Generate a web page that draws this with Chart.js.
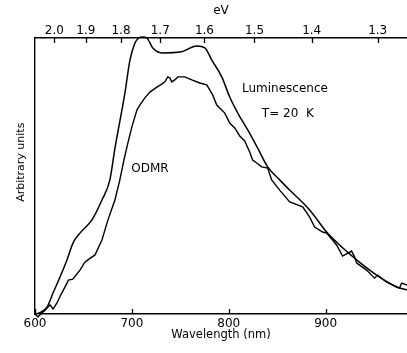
<!DOCTYPE html>
<html>
<head>
<meta charset="utf-8">
<title>ODMR and luminescence spectra</title>
<script src="https://cdn.jsdelivr.net/npm/chart.js@4.4.1/dist/chart.umd.min.js"></script>
<style>
  html, body { margin: 0; padding: 0; background: #fff; }
  #wrap { width: 407px; height: 353px; position: relative; }
</style>
</head>
<body>
<div id="wrap"><canvas id="spectra"></canvas></div>
<script>
// values: wavelength in nm, intensity in arbitrary units (0-100)
const lumWavelength = [600, 605, 612.4, 618.6, 625.8, 633, 639.2, 646.4, 658.8, 669.1,
  677.3, 682.5, 692.8, 698, 703, 707, 711.3, 715.5, 721.6, 732,
  750, 767, 775.3, 782.5, 792.8, 801, 809.3, 819.6, 829.9, 840.2,
  852.6, 862.9, 883.5, 901, 914.4, 932, 952.6, 973.2, 984];
const lumIntensity = [0, 0.5, 2.5, 7.6, 13.4, 19.6, 25.7, 29.3, 34.1, 41.3,
  48.6, 60, 80, 92, 98, 100, 100.4, 100, 96.4, 94.6,
  94.9, 97.1, 96.4, 92, 85.9, 78.6, 72.8, 66.7, 60.1, 53.3,
  48.6, 44.9, 37.7, 29.7, 25, 19.6, 14.1, 9.8, 8.7];

const odmrWavelength = [600, 603, 606, 611, 615.5, 618.6, 622.7, 626, 633, 634.5,
  639, 646.4, 651.5, 654.6, 661.9, 669.1, 675.3, 682.5, 687.6, 691.8,
  695.9, 700, 705.2, 708.2, 713.4, 718.6, 725.8, 730.9, 734, 737.1,
  739.2, 741.2, 744.3, 747.4, 754.6, 761.9, 770.1, 777.3, 780.4, 783.5,
  787.6, 792.8, 795.9, 801, 806.2, 811.3, 816.5, 821.6, 824.7, 828.9,
  834, 840.2, 844.3, 852.6, 862.9, 876.3, 883.5, 888.7, 896.9, 901,
  907.2, 911.3, 917.5, 926.8, 929.9, 932, 942.3, 950.5, 953.6, 962.9,
  973.2, 976.3, 978.4, 984];
const odmrIntensity = [0, -1.1, 0, 1.5, 3.3, 1.8, 4, 6.5, 11.2, 12.3,
  12.6, 15.9, 18.8, 19.6, 21.4, 26.8, 34.1, 41.3, 48.6, 55.8,
  62, 67.8, 73.9, 75.7, 78.3, 80.4, 82.2, 83.3, 84.1, 85.9,
  85.5, 84.1, 84.8, 85.9, 85.9, 84.8, 83.7, 83, 81.2, 79.3,
  75.7, 73.9, 72.8, 69.2, 67.4, 64.5, 62.7, 58.7, 55.8, 54.7,
  53.3, 52.9, 48.6, 44.9, 40.6, 38.8, 35.1, 31.5, 29.7, 29.3,
  26.8, 25, 21, 22.8, 20.7, 18.5, 15.9, 13, 14.1, 11.6,
  9.8, 9.4, 11.2, 10.5];

const nmTicks = [600, 700, 800, 900];
const evTicks = [2.0, 1.9, 1.8, 1.7, 1.6, 1.5, 1.4, 1.3];

// text placed inside the plot, anchored in data units (nm, intensity)
const curveLabels = [
  { text: 'Luminescence', nm: 858, value: 81.5 },
  { text: 'T= 20  K', nm: 861, value: 72.5 },
  { text: 'ODMR', nm: 718.6, value: 52.5 }
];

const HC = 1239.84; // eV * nm
const ink = '#000';
const fontFamily = '"DejaVu Sans", sans-serif';

function toPoints(xs, ys) {
  return xs.map((x, i) => ({ x: x, y: ys[i] }));
}

// ticks in the original point inwards, chart.js draws them outside, so do it here
const innerTicks = {
  id: 'innerTicks',
  afterDraw(chart) {
    const { ctx, chartArea } = chart;
    const bottom = chart.scales.x;
    const top = chart.scales.xTop;
    ctx.save();
    ctx.strokeStyle = ink;
    ctx.lineWidth = 1.3;
    ctx.beginPath();
    bottom.ticks.forEach((t) => {
      const px = Math.round(bottom.getPixelForValue(t.value)) + 0.5;
      ctx.moveTo(px, chartArea.bottom);
      ctx.lineTo(px, chartArea.bottom - 5);
    });
    top.ticks.forEach((t) => {
      const px = Math.round(top.getPixelForValue(t.value)) + 0.5;
      ctx.moveTo(px, chartArea.top);
      ctx.lineTo(px, chartArea.top + 5);
    });
    ctx.stroke();

    ctx.fillStyle = ink;
    ctx.font = '12px ' + fontFamily;
    ctx.textAlign = 'center';
    ctx.textBaseline = 'middle';
    curveLabels.forEach((lab) => {
      ctx.fillText(lab.text, bottom.getPixelForValue(lab.nm), chart.scales.y.getPixelForValue(lab.value));
    });

    // y title sits a bit above the middle of the axis in the original
    ctx.font = '11px ' + fontFamily;
    ctx.translate(21, chart.scales.y.getPixelForValue(55));
    ctx.rotate(-Math.PI / 2);
    ctx.fillText('Arbitrary units', 0, 0);
    ctx.restore();
  }
};

function initChart(target) {
  Chart.defaults.font.family = fontFamily;
  Chart.defaults.color = ink;

  const data = {
    datasets: [
      {
        label: 'Luminescence',
        data: toPoints(lumWavelength, lumIntensity),
        borderColor: ink,
        borderWidth: 1.5,
        pointRadius: 0,
        cubicInterpolationMode: 'monotone',
        fill: false
      },
      {
        label: 'ODMR',
        data: toPoints(odmrWavelength, odmrIntensity),
        borderColor: ink,
        borderWidth: 1.4,
        pointRadius: 0,
        tension: 0,
        fill: false
      }
    ]
  };

  const config = {
    type: 'line',
    data: data,
    options: {
      responsive: true,
      maintainAspectRatio: false,
      animation: false,
      devicePixelRatio: 1,
      clip: false,
      layout: { padding: 0 },
      plugins: {
        legend: { display: false },
        tooltip: { enabled: false }
      },
      scales: {
        x: {
          type: 'linear',
          position: 'bottom',
          min: 600,
          max: 984,
          afterBuildTicks: (scale) => { scale.ticks = nmTicks.map((v) => ({ value: v })); },
          afterFit: (scale) => { scale.height = 39; },
          ticks: { font: { size: 12 }, padding: 3, maxRotation: 0 },
          grid: { display: false, drawTicks: false, tickLength: 0 },
          border: { display: true, color: ink, width: 1.4 },
          title: {
            display: true,
            text: 'Wavelength (nm)',
            font: { size: 11.5 },
            padding: { top: 0, bottom: 11 }
          }
        },
        xTop: {
          type: 'linear',
          position: 'top',
          min: 600,
          max: 984,
          afterBuildTicks: (scale) => { scale.ticks = evTicks.map((ev) => ({ value: HC / ev })); },
          afterFit: (scale) => { scale.height = 38; },
          ticks: {
            font: { size: 12 },
            padding: 0,
            maxRotation: 0,
            callback: (value) => (HC / value).toFixed(1)
          },
          grid: { display: false, drawTicks: false, tickLength: 0 },
          border: { display: true, color: ink, width: 1.4 },
          title: {
            display: true,
            text: 'eV',
            font: { size: 12 },
            padding: { top: 4, bottom: 0 }
          }
        },
        y: {
          min: 0,
          max: 100,
          afterFit: (scale) => { scale.width = 35; },
          ticks: { display: false },
          grid: { display: false, drawTicks: false, tickLength: 0 },
          border: { display: true, color: ink, width: 1.4 }
        }
      }
    },
    plugins: [innerTicks]
  };

  return new Chart(target, config);
}

document.addEventListener('DOMContentLoaded', () => {
  initChart(document.querySelector('#spectra'));
});
</script>
</body>
</html>
